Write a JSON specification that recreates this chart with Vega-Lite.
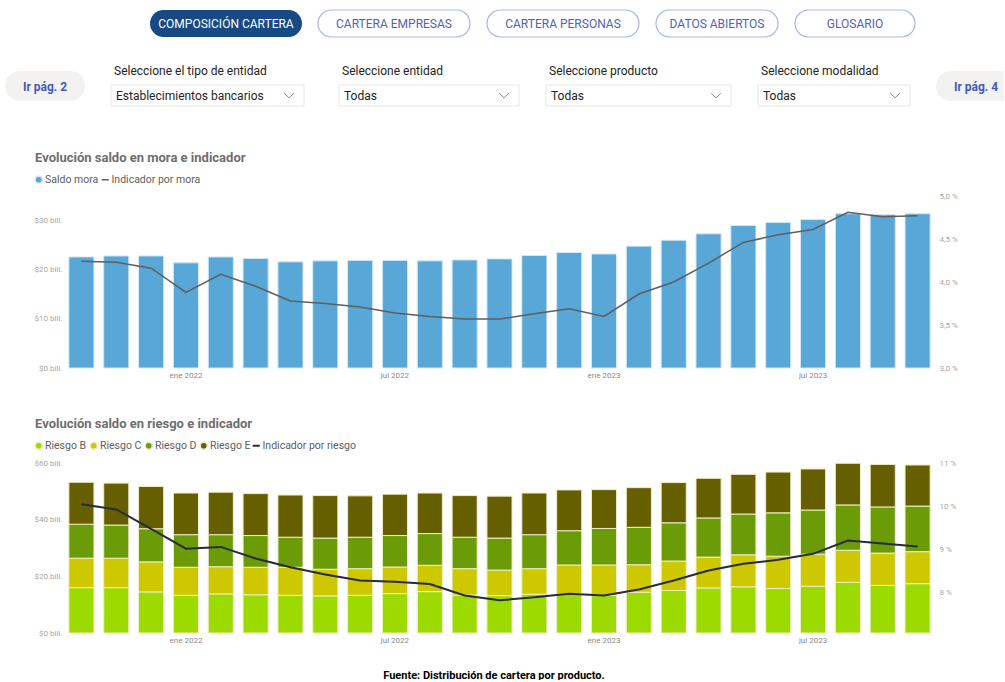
{
  "$schema": "https://vega.github.io/schema/vega-lite/v6.json",
  "background": "white",
  "padding": {"left": 5, "top": 9, "right": 0, "bottom": 0},
  "config": {"view": {"stroke": null}, "font": "Roboto"},
  "datasets": {
    "mora": [
      {"mes": "oct 2021", "saldo": 22.6, "indicador": 4.24},
      {"mes": "nov 2021", "saldo": 22.8, "indicador": 4.23},
      {"mes": "dic 2021", "saldo": 22.8, "indicador": 4.16},
      {"mes": "ene 2022", "saldo": 21.4, "indicador": 3.88},
      {"mes": "feb 2022", "saldo": 22.6, "indicador": 4.09},
      {"mes": "mar 2022", "saldo": 22.3, "indicador": 3.95},
      {"mes": "abr 2022", "saldo": 21.6, "indicador": 3.78},
      {"mes": "may 2022", "saldo": 21.8, "indicador": 3.75},
      {"mes": "jun 2022", "saldo": 21.9, "indicador": 3.71},
      {"mes": "jul 2022", "saldo": 21.9, "indicador": 3.64},
      {"mes": "ago 2022", "saldo": 21.8, "indicador": 3.60},
      {"mes": "sep 2022", "saldo": 22.0, "indicador": 3.57},
      {"mes": "oct 2022", "saldo": 22.2, "indicador": 3.57},
      {"mes": "nov 2022", "saldo": 22.9, "indicador": 3.63},
      {"mes": "dic 2022", "saldo": 23.5, "indicador": 3.69},
      {"mes": "ene 2023", "saldo": 23.2, "indicador": 3.60},
      {"mes": "feb 2023", "saldo": 24.8, "indicador": 3.86},
      {"mes": "mar 2023", "saldo": 26.0, "indicador": 4.00},
      {"mes": "abr 2023", "saldo": 27.3, "indicador": 4.22},
      {"mes": "may 2023", "saldo": 29.0, "indicador": 4.46},
      {"mes": "jun 2023", "saldo": 29.6, "indicador": 4.55},
      {"mes": "jul 2023", "saldo": 30.2, "indicador": 4.61},
      {"mes": "ago 2023", "saldo": 31.4, "indicador": 4.81},
      {"mes": "sep 2023", "saldo": 31.2, "indicador": 4.76},
      {"mes": "oct 2023", "saldo": 31.4, "indicador": 4.77}
    ],
    "riesgo": [
      {"mes": "oct 2021", "Riesgo B": 16.0, "Riesgo C": 10.4, "Riesgo D": 12.0, "Riesgo E": 14.8, "indicador": 10.04},
      {"mes": "nov 2021", "Riesgo B": 16.0, "Riesgo C": 10.4, "Riesgo D": 11.7, "Riesgo E": 14.8, "indicador": 9.92},
      {"mes": "dic 2021", "Riesgo B": 14.5, "Riesgo C": 10.6, "Riesgo D": 11.7, "Riesgo E": 14.9, "indicador": 9.47},
      {"mes": "ene 2022", "Riesgo B": 13.3, "Riesgo C": 9.9, "Riesgo D": 11.5, "Riesgo E": 14.7, "indicador": 9.01},
      {"mes": "feb 2022", "Riesgo B": 13.8, "Riesgo C": 9.6, "Riesgo D": 11.3, "Riesgo E": 15.0, "indicador": 9.05},
      {"mes": "mar 2022", "Riesgo B": 13.5, "Riesgo C": 9.7, "Riesgo D": 11.2, "Riesgo E": 14.8, "indicador": 8.78},
      {"mes": "abr 2022", "Riesgo B": 13.3, "Riesgo C": 9.9, "Riesgo D": 10.6, "Riesgo E": 14.9, "indicador": 8.58},
      {"mes": "may 2022", "Riesgo B": 13.1, "Riesgo C": 9.4, "Riesgo D": 11.0, "Riesgo E": 15.0, "indicador": 8.41},
      {"mes": "jun 2022", "Riesgo B": 13.3, "Riesgo C": 9.4, "Riesgo D": 11.1, "Riesgo E": 14.6, "indicador": 8.27},
      {"mes": "jul 2022", "Riesgo B": 13.9, "Riesgo C": 9.4, "Riesgo D": 11.1, "Riesgo E": 14.6, "indicador": 8.24},
      {"mes": "ago 2022", "Riesgo B": 14.6, "Riesgo C": 9.3, "Riesgo D": 11.2, "Riesgo E": 14.3, "indicador": 8.19},
      {"mes": "sep 2022", "Riesgo B": 13.4, "Riesgo C": 9.3, "Riesgo D": 11.1, "Riesgo E": 14.7, "indicador": 7.92},
      {"mes": "oct 2022", "Riesgo B": 13.2, "Riesgo C": 9.0, "Riesgo D": 11.3, "Riesgo E": 14.8, "indicador": 7.81},
      {"mes": "nov 2022", "Riesgo B": 13.7, "Riesgo C": 9.0, "Riesgo D": 12.0, "Riesgo E": 14.7, "indicador": 7.88},
      {"mes": "dic 2022", "Riesgo B": 13.7, "Riesgo C": 10.3, "Riesgo D": 12.1, "Riesgo E": 14.4, "indicador": 7.96},
      {"mes": "ene 2023", "Riesgo B": 13.3, "Riesgo C": 10.7, "Riesgo D": 12.9, "Riesgo E": 13.7, "indicador": 7.92},
      {"mes": "feb 2023", "Riesgo B": 14.4, "Riesgo C": 9.7, "Riesgo D": 13.2, "Riesgo E": 14.0, "indicador": 8.06},
      {"mes": "mar 2023", "Riesgo B": 15.0, "Riesgo C": 10.4, "Riesgo D": 13.5, "Riesgo E": 14.2, "indicador": 8.27},
      {"mes": "abr 2023", "Riesgo B": 15.9, "Riesgo C": 10.9, "Riesgo D": 13.8, "Riesgo E": 14.0, "indicador": 8.50},
      {"mes": "may 2023", "Riesgo B": 16.3, "Riesgo C": 11.3, "Riesgo D": 14.4, "Riesgo E": 14.0, "indicador": 8.66},
      {"mes": "jun 2023", "Riesgo B": 15.7, "Riesgo C": 11.4, "Riesgo D": 15.3, "Riesgo E": 14.4, "indicador": 8.75},
      {"mes": "jul 2023", "Riesgo B": 16.5, "Riesgo C": 11.3, "Riesgo D": 15.6, "Riesgo E": 14.5, "indicador": 8.89},
      {"mes": "ago 2023", "Riesgo B": 17.9, "Riesgo C": 11.3, "Riesgo D": 16.0, "Riesgo E": 14.7, "indicador": 9.20},
      {"mes": "sep 2023", "Riesgo B": 16.8, "Riesgo C": 11.4, "Riesgo D": 16.3, "Riesgo E": 15.0, "indicador": 9.13},
      {"mes": "oct 2023", "Riesgo B": 17.4, "Riesgo C": 11.3, "Riesgo D": 16.1, "Riesgo E": 14.5, "indicador": 9.06}
    ]
  },
  "spacing": 26,
  "resolve": {"scale": {"fill": "independent", "stroke": "independent"}, "legend": {"fill": "independent", "stroke": "independent"}},
  "vconcat": [
    {
      "hconcat": [
        {"width": 130, "height": 27, "data": {"values": [{}]}, "mark": {"type": "rect", "opacity": 0}},
        {"width": 152, "height": 27, "data": {"values": [{"boton": "COMPOSICIÓN CARTERA"}]},
         "layer": [
           {"mark": {"type": "rect", "cornerRadius": 13.5, "fill": "#174A84"}},
           {"mark": {"type": "text", "color": "#FFFFFF", "fontSize": 12}, "encoding": {"text": {"field": "boton"}}}
         ]},
        {"width": 152, "height": 27, "data": {"values": [{"boton": "CARTERA EMPRESAS"}]},
         "layer": [
           {"mark": {"type": "rect", "cornerRadius": 13.5, "fill": "#FFFFFF", "stroke": "#A9B7E6", "strokeWidth": 1.2}},
           {"mark": {"type": "text", "color": "#5262B3", "fontSize": 12}, "encoding": {"text": {"field": "boton"}}}
         ]},
        {"width": 152, "height": 27, "data": {"values": [{"boton": "CARTERA PERSONAS"}]},
         "layer": [
           {"mark": {"type": "rect", "cornerRadius": 13.5, "fill": "#FFFFFF", "stroke": "#A9B7E6", "strokeWidth": 1.2}},
           {"mark": {"type": "text", "color": "#5262B3", "fontSize": 12}, "encoding": {"text": {"field": "boton"}}}
         ]},
        {"width": 122, "height": 27, "data": {"values": [{"boton": "DATOS ABIERTOS"}]},
         "layer": [
           {"mark": {"type": "rect", "cornerRadius": 13.5, "fill": "#FFFFFF", "stroke": "#A9B7E6", "strokeWidth": 1.2}},
           {"mark": {"type": "text", "color": "#5262B3", "fontSize": 12}, "encoding": {"text": {"field": "boton"}}}
         ]},
        {"width": 120, "height": 27, "data": {"values": [{"boton": "GLOSARIO"}]},
         "layer": [
           {"mark": {"type": "rect", "cornerRadius": 13.5, "fill": "#FFFFFF", "stroke": "#A9B7E6", "strokeWidth": 1.2}},
           {"mark": {"type": "text", "color": "#5262B3", "fontSize": 12}, "encoding": {"text": {"field": "boton"}}}
         ]}
      ],
      "spacing": 15
    },
    {
      "spacing": 44,
      "resolve": {"scale": {"fill": "independent", "stroke": "independent"}, "legend": {"fill": "independent", "stroke": "independent"}},
      "vconcat": [
        {
          "spacing": 33,
          "hconcat": [
            {
              "spacing": 25,
              "hconcat": [
                {"width": 80, "height": 21, "data": {"values": [{"boton": "Ir pág. 2"}]},
                 "layer": [
                   {"mark": {"type": "rect", "cornerRadius": 15, "fill": "#F3F2F1", "y": -14, "y2": 16}},
                   {"mark": {"type": "text", "color": "#3F5CB8", "fontSize": 12, "fontWeight": "bold", "baseline": "middle", "y": 1.5}, "encoding": {"text": {"field": "boton"}}}
                 ]},
                {"width": 193, "height": 21, "data": {"values": [{"valor": "Establecimientos bancarios"}]},
                 "title": {"text": "Seleccione el tipo de entidad", "anchor": "start", "frame": "group", "dx": 3, "offset": 7, "fontSize": 12, "fontWeight": "normal", "color": "#252423"},
                 "layer": [
                   {"mark": {"type": "rect", "fill": "#FFFFFF", "stroke": "#E8E8E8"}},
                   {"mark": {"type": "text", "align": "left", "x": 0, "dx": 5, "fontSize": 12, "color": "#252423"}, "encoding": {"text": {"field": "valor"}}},
                   {"mark": {"type": "point", "shape": "M-1,-0.5L0,0.5L1,-0.5", "filled": false, "stroke": "#8A8886", "strokeWidth": 1, "size": 90, "x": "width", "xOffset": -15, "opacity": 1}}
                 ]}
              ]
            },
            {
              "spacing": 25,
              "hconcat": [
                {"width": 180, "height": 21, "data": {"values": [{"valor": "Todas"}]},
                 "title": {"text": "Seleccione entidad", "anchor": "start", "frame": "group", "dx": 3, "offset": 7, "fontSize": 12, "fontWeight": "normal", "color": "#252423"},
                 "layer": [
                   {"mark": {"type": "rect", "fill": "#FFFFFF", "stroke": "#E8E8E8"}},
                   {"mark": {"type": "text", "align": "left", "x": 0, "dx": 5, "fontSize": 12, "color": "#252423"}, "encoding": {"text": {"field": "valor"}}},
                   {"mark": {"type": "point", "shape": "M-1,-0.5L0,0.5L1,-0.5", "filled": false, "stroke": "#8A8886", "strokeWidth": 1, "size": 90, "x": "width", "xOffset": -15, "opacity": 1}}
                 ]},
                {"width": 185, "height": 21, "data": {"values": [{"valor": "Todas"}]},
                 "title": {"text": "Seleccione producto", "anchor": "start", "frame": "group", "dx": 3, "offset": 7, "fontSize": 12, "fontWeight": "normal", "color": "#252423"},
                 "layer": [
                   {"mark": {"type": "rect", "fill": "#FFFFFF", "stroke": "#E8E8E8"}},
                   {"mark": {"type": "text", "align": "left", "x": 0, "dx": 5, "fontSize": 12, "color": "#252423"}, "encoding": {"text": {"field": "valor"}}},
                   {"mark": {"type": "point", "shape": "M-1,-0.5L0,0.5L1,-0.5", "filled": false, "stroke": "#8A8886", "strokeWidth": 1, "size": 90, "x": "width", "xOffset": -15, "opacity": 1}}
                 ]},
                {"width": 152, "height": 21, "data": {"values": [{"valor": "Todas"}]},
                 "title": {"text": "Seleccione modalidad", "anchor": "start", "frame": "group", "dx": 3, "offset": 7, "fontSize": 12, "fontWeight": "normal", "color": "#252423"},
                 "layer": [
                   {"mark": {"type": "rect", "fill": "#FFFFFF", "stroke": "#E8E8E8"}},
                   {"mark": {"type": "text", "align": "left", "x": 0, "dx": 5, "fontSize": 12, "color": "#252423"}, "encoding": {"text": {"field": "valor"}}},
                   {"mark": {"type": "point", "shape": "M-1,-0.5L0,0.5L1,-0.5", "filled": false, "stroke": "#8A8886", "strokeWidth": 1, "size": 90, "x": "width", "xOffset": -15, "opacity": 1}}
                 ]},
                {"width": 68, "height": 21, "data": {"values": [{"boton": "Ir pág. 4"}]},
                 "layer": [
                   {"mark": {"type": "rect", "cornerRadiusTopLeft": 15, "cornerRadiusBottomLeft": 15, "fill": "#F3F2F1", "y": -14, "y2": 16}},
                   {"mark": {"type": "text", "color": "#3F5CB8", "fontSize": 12, "fontWeight": "bold", "dx": 6, "baseline": "middle", "y": 1.5}, "encoding": {"text": {"field": "boton"}}}
                 ]}
              ]
            }
          ]
        },
        {
          "spacing": 0,
          "resolve": {"scale": {"fill": "independent", "stroke": "independent"}, "legend": {"fill": "independent", "stroke": "independent"}},
          "hconcat": [
            {"width": 1, "height": 10, "data": {"values": [{}]}, "mark": {"type": "rect", "opacity": 0}},
            {
              "spacing": 38,
              "resolve": {"scale": {"fill": "independent", "stroke": "independent"}, "legend": {"fill": "independent", "stroke": "independent"}},
              "vconcat": [
                {
                  "width": 871,
                  "height": 172,
                  "data": {"name": "mora"},
                  "title": {"text": "Evolución saldo en mora e indicador", "anchor": "start", "frame": "group", "dx": -29, "offset": 10, "fontSize": 13, "fontWeight": "bold", "color": "#6E6E6E"},
                  "encoding": {
                    "x": {"field": "mes", "type": "ordinal", "sort": null,
                          "scale": {"paddingInner": 0.28, "paddingOuter": 0.14},
                          "axis": {"title": null, "labelAngle": 0, "domain": false, "ticks": false, "grid": false, "labelOverlap": false, "labelColor": "#8A8A8A", "labelFontSize": 8, "labelPadding": 3,
                                   "labelExpr": "indexof(['ene','jul'], slice(datum.value,0,3)) >= 0 ? datum.value : ''"}}
                  },
                  "layer": [
                    {
                      "mark": {"type": "bar", "stroke": "#D2E8F6", "strokeWidth": 1},
                      "encoding": {
                        "y": {"field": "saldo", "type": "quantitative", "scale": {"domain": [0, 35]},
                              "axis": {"orient": "left", "title": null, "domain": false, "ticks": false, "grid": false, "values": [0, 10, 20, 30], "labelExpr": "'$' + datum.value + ' bill.'", "labelFontSize": 8, "labelColor": "#A6A6A6", "labelPadding": 2, "minExtent": 58}},
                        "fill": {"datum": "Saldo mora", "type": "nominal", "scale": {"domain": ["Saldo mora"], "range": ["#58A7D6"]},
                                 "legend": {"orient": "none", "legendX": -30.5, "legendY": -21.5, "direction": "horizontal", "title": null, "symbolType": "circle", "symbolSize": 50, "labelFontSize": 10.5, "labelColor": "#605E5C", "labelOffset": 1, "padding": 0}}
                      }
                    },
                    {
                      "mark": {"type": "line", "strokeWidth": 1.5},
                      "encoding": {
                        "y": {"field": "indicador", "type": "quantitative", "scale": {"domain": [3, 5]},
                              "axis": {"orient": "right", "title": null, "domain": false, "ticks": false, "grid": false, "values": [3, 3.5, 4, 4.5, 5], "labelExpr": "replace(format(datum.value, '.1f'), '.', ',') + ' %'", "labelFontSize": 8, "labelColor": "#A6A6A6", "labelPadding": 4}},
                        "stroke": {"datum": "Indicador por mora", "type": "nominal", "scale": {"domain": ["Indicador por mora"], "range": ["#5E5E5E"]},
                                   "legend": {"orient": "none", "legendX": 36, "legendY": -21.5, "direction": "horizontal", "title": null, "symbolType": "stroke", "symbolSize": 50, "symbolStrokeWidth": 1.5, "labelFontSize": 10.5, "labelColor": "#605E5C", "labelOffset": 1, "padding": 0}}
                      }
                    }
                  ],
                  "resolve": {"scale": {"y": "independent"}}
                },
                {
                  "width": 871,
                  "height": 170,
                  "data": {"name": "riesgo"},
                  "title": {"text": "Evolución saldo en riesgo e indicador", "anchor": "start", "frame": "group", "dx": -29, "offset": 10, "fontSize": 13, "fontWeight": "bold", "color": "#6E6E6E"},
                  "encoding": {
                    "x": {"field": "mes", "type": "ordinal", "sort": null,
                          "scale": {"paddingInner": 0.28, "paddingOuter": 0.14},
                          "axis": {"title": "Fuente: Distribución de cartera por producto.", "titleFontSize": 11, "titleFontWeight": "bold", "titleColor": "#000000", "titlePadding": 25, "titleX": 429.5,
                                   "labelAngle": 0, "domain": false, "ticks": false, "grid": false, "labelOverlap": false, "labelColor": "#8A8A8A", "labelFontSize": 8, "labelPadding": 3,
                                   "labelExpr": "indexof(['ene','jul'], slice(datum.value,0,3)) >= 0 ? datum.value : ''"}}
                  },
                  "layer": [
                    {
                      "transform": [{"fold": ["Riesgo B", "Riesgo C", "Riesgo D", "Riesgo E"], "as": ["riesgo", "saldo"]}],
                      "mark": {"type": "bar", "stroke": "#EEEDC8", "strokeWidth": 1},
                      "encoding": {
                        "y": {"field": "saldo", "type": "quantitative", "stack": "zero", "scale": {"domain": [0, 60]},
                              "axis": {"orient": "left", "title": null, "domain": false, "ticks": false, "grid": false, "values": [0, 20, 40, 60], "labelExpr": "'$' + datum.value + ' bill.'", "labelFontSize": 8, "labelColor": "#A6A6A6", "labelPadding": 2, "minExtent": 58}},
                        "fill": {"field": "riesgo", "type": "nominal",
                                 "scale": {"domain": ["Riesgo B", "Riesgo C", "Riesgo D", "Riesgo E"], "range": ["#9DDB00", "#CDC800", "#6B9B07", "#655F00"]},
                                 "legend": {"orient": "none", "legendX": -30.5, "legendY": -22.5, "direction": "horizontal", "title": null, "symbolType": "circle", "symbolSize": 50, "labelFontSize": 10.5, "labelColor": "#605E5C", "labelOffset": 1, "columnPadding": 0, "padding": 0}},
                        "order": {"field": "riesgo", "sort": "ascending"}
                      }
                    },
                    {
                      "mark": {"type": "line", "strokeWidth": 2},
                      "encoding": {
                        "y": {"field": "indicador", "type": "quantitative", "scale": {"domain": [7.05, 11]},
                              "axis": {"orient": "right", "title": null, "domain": false, "ticks": false, "grid": false, "values": [8, 9, 10, 11], "labelExpr": "format(datum.value, '.0f') + ' %'", "labelFontSize": 8, "labelColor": "#A6A6A6", "labelPadding": 4}},
                        "stroke": {"datum": "Indicador por riesgo", "type": "nominal", "scale": {"domain": ["Indicador por riesgo"], "range": ["#272A3A"]},
                                   "legend": {"orient": "none", "legendX": 187, "legendY": -22.5, "direction": "horizontal", "title": null, "symbolType": "stroke", "symbolSize": 50, "symbolStrokeWidth": 2, "labelFontSize": 10.5, "labelColor": "#605E5C", "labelOffset": 1, "padding": 0}}
                      }
                    }
                  ],
                  "resolve": {"scale": {"y": "independent"}}
                }
              ]
            }
          ]
        }
      ]
    }
  ]
}
